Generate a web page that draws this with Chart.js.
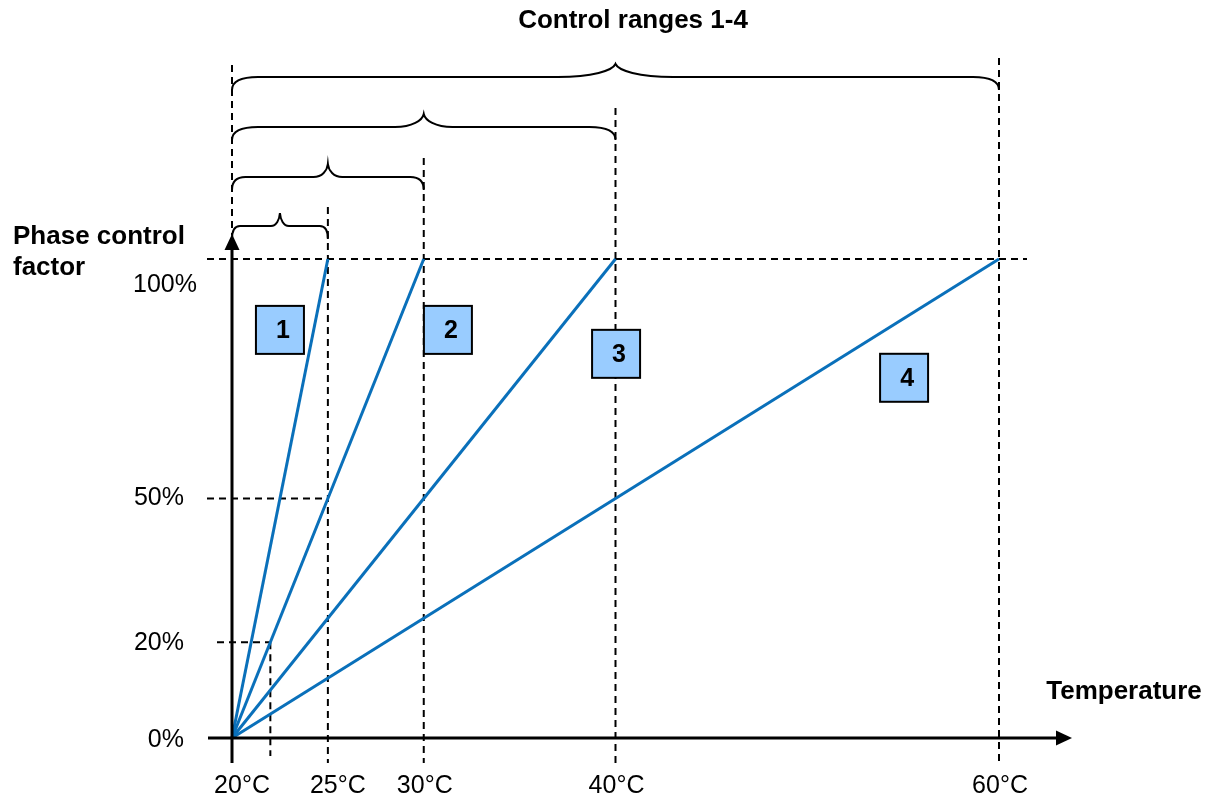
<!DOCTYPE html>
<html>
<head>
<meta charset="utf-8">
<script src="https://cdn.jsdelivr.net/npm/chart.js@4/dist/chart.umd.min.js"></script>
<style>
  html, body { margin: 0; padding: 0; background: #fff; }
  #wrap { width: 1218px; height: 807px; position: relative; }
</style>
</head>
<body>
<div id="wrap"><canvas id="chart"></canvas></div>
<script>
// ---- data ----
const rangeLabels = ['1', '2', '3', '4'];
const rangeStart = 20;                 // °C, all ranges start here
const rangeEnds = [25, 30, 40, 60];    // °C, where factor reaches 100%
const factorMin = 0;
const factorMax = 100;
const xTicks = [20, 25, 30, 40, 60];
const yTicks = [0, 20, 50, 100];
const guide50 = { x: 25, y: 50 };      // dashed helper lines
const guide20 = { x: 22, y: 20 };

const BLUE = '#0A70BA';
const FONT = "'Liberation Sans', Arial, sans-serif";

// box anchors (data units, centre of box)
const boxAt = [[22.5, 85.2], [31.26, 85.2], [40.03, 80.2], [55.05, 75.2]];

function dashed(ctx, x0, y0, x1, y1) {
  ctx.save();
  ctx.strokeStyle = '#000';
  ctx.lineWidth = 2;
  ctx.setLineDash([7, 5]);
  ctx.beginPath();
  ctx.moveTo(x0, y0);
  ctx.lineTo(x1, y1);
  ctx.stroke();
  ctx.restore();
}

function brace(ctx, x0, x1, y, d) {
  const len = x1 - x0, mid = (x0 + x1) / 2;
  const ew = Math.min(26, Math.max(8, len * 0.07));
  const tw = Math.max(9, len * 0.075);
  ctx.save();
  ctx.strokeStyle = '#000';
  ctx.lineWidth = 2;
  ctx.beginPath();
  ctx.moveTo(x0, y + d);
  ctx.quadraticCurveTo(x0, y, x0 + ew, y);
  ctx.lineTo(mid - tw, y);
  ctx.bezierCurveTo(mid - tw * 0.4, y, mid - tw * 0.05, y - d * 0.5, mid, y - d);
  ctx.bezierCurveTo(mid + tw * 0.05, y - d * 0.5, mid + tw * 0.4, y, mid + tw, y);
  ctx.lineTo(x1 - ew, y);
  ctx.quadraticCurveTo(x1, y, x1, y + d);
  ctx.stroke();
  ctx.restore();
}

const decor = {
  id: 'decor',
  beforeDatasetsDraw(chart) {
    const ctx = chart.ctx, xs = chart.scales.x, ys = chart.scales.y;
    const x0 = xs.getPixelForValue(rangeStart);
    const yTop = ys.getPixelForValue(factorMax);
    const yBot = ys.getPixelForValue(factorMin);
    const braceY = [226, 177, 127, 77];

    // verticals at range ends
    rangeEnds.forEach((v, i) => {
      const px = xs.getPixelForValue(v);
      dashed(ctx, px, braceY[i] - 19, px, yBot + 25);
    });
    // vertical at start, above the axis arrow
    dashed(ctx, x0, braceY[3] - 12, x0, yTop - 24);

    // horizontal guides
    dashed(ctx, x0 - 25, yTop, xs.getPixelForValue(rangeEnds[3]) + 28, yTop);
    const g50y = ys.getPixelForValue(guide50.y);
    dashed(ctx, x0 - 25, g50y, xs.getPixelForValue(guide50.x), g50y);
    const g20y = ys.getPixelForValue(guide20.y);
    const g20x = xs.getPixelForValue(guide20.x);
    dashed(ctx, x0 - 15, g20y, g20x, g20y);
    dashed(ctx, g20x, g20y, g20x, yBot + 18);

    // braces
    rangeEnds.forEach((v, i) => {
      brace(ctx, x0, xs.getPixelForValue(v), braceY[i], 13);
    });
  },
  afterDatasetsDraw(chart) {
    const ctx = chart.ctx, xs = chart.scales.x, ys = chart.scales.y;
    const x0 = xs.getPixelForValue(rangeStart);
    const y0 = ys.getPixelForValue(factorMin);
    const yTop = ys.getPixelForValue(factorMax);

    ctx.save();
    // axes
    ctx.strokeStyle = '#000';
    ctx.fillStyle = '#000';
    ctx.lineWidth = 3;
    ctx.beginPath();
    ctx.moveTo(x0 - 24, y0);
    ctx.lineTo(1060, y0);
    ctx.moveTo(x0, y0 + 25);
    ctx.lineTo(x0, yTop - 10);
    ctx.stroke();
    // arrowheads
    ctx.beginPath();
    ctx.moveTo(1072, y0);
    ctx.lineTo(1056, y0 - 7.5);
    ctx.lineTo(1056, y0 + 7.5);
    ctx.closePath();
    ctx.fill();
    ctx.beginPath();
    ctx.moveTo(x0, yTop - 25);
    ctx.lineTo(x0 - 7.5, yTop - 9);
    ctx.lineTo(x0 + 7.5, yTop - 9);
    ctx.closePath();
    ctx.fill();

    // tick labels
    ctx.font = '25px ' + FONT;
    ctx.textBaseline = 'middle';
    ctx.textAlign = 'right';
    yTicks.forEach(v => {
      let py = ys.getPixelForValue(v), px = 184;
      if (v === factorMax) { py += 26; px = 197; }
      if (v === factorMin) py += 2;
      if (v === 20) py += 1;
      ctx.fillText(v + '%', px, py);
    });
    ctx.textAlign = 'center';
    xTicks.forEach((v, i) => {
      const nudge = i < 2 ? 10 : 1;
      ctx.fillText(v + '°C', xs.getPixelForValue(v) + nudge, 786);
    });

    // numbered boxes
    rangeLabels.forEach((lab, i) => {
      const cx = xs.getPixelForValue(boxAt[i][0]);
      const cy = ys.getPixelForValue(boxAt[i][1]);
      ctx.fillStyle = '#99CCFF';
      ctx.fillRect(cx - 24, cy - 24, 48, 48);
      ctx.lineWidth = 2;
      ctx.strokeStyle = '#000';
      ctx.strokeRect(cx - 24, cy - 24, 48, 48);
      ctx.fillStyle = '#000';
      ctx.font = 'bold 25px ' + FONT;
      ctx.textAlign = 'center';
      ctx.fillText(lab, cx + 3, cy + 1);
    });

    // titles
    ctx.font = 'bold 26px ' + FONT;
    ctx.textAlign = 'center';
    ctx.fillText('Control ranges 1-4', 633, 21);
    ctx.textAlign = 'left';
    ctx.fillText('Phase control', 13, 237);
    ctx.fillText('factor', 13, 268);
    ctx.textAlign = 'center';
    ctx.fillText('Temperature', 1124, 692);
    ctx.restore();
  }
};

const datasets = rangeEnds.map((end, i) => ({
  label: 'Range ' + rangeLabels[i],
  data: [{ x: rangeStart, y: factorMin }, { x: end, y: factorMax }],
  showLine: true,
  borderColor: BLUE,
  borderWidth: 3,
  pointRadius: 0,
  clip: false
}));

new Chart(document.getElementById('chart'), {
  type: 'scatter',
  data: { datasets },
  options: {
    responsive: true,
    maintainAspectRatio: false,
    animation: false,
    layout: { padding: { left: 232, right: 219, top: 259, bottom: 69 } },
    plugins: { legend: { display: false }, tooltip: { enabled: false } },
    scales: {
      x: { type: 'linear', min: rangeStart, max: 60, display: false },
      y: { type: 'linear', min: factorMin, max: factorMax, display: false }
    }
  },
  plugins: [decor]
});
</script>
</body>
</html>
